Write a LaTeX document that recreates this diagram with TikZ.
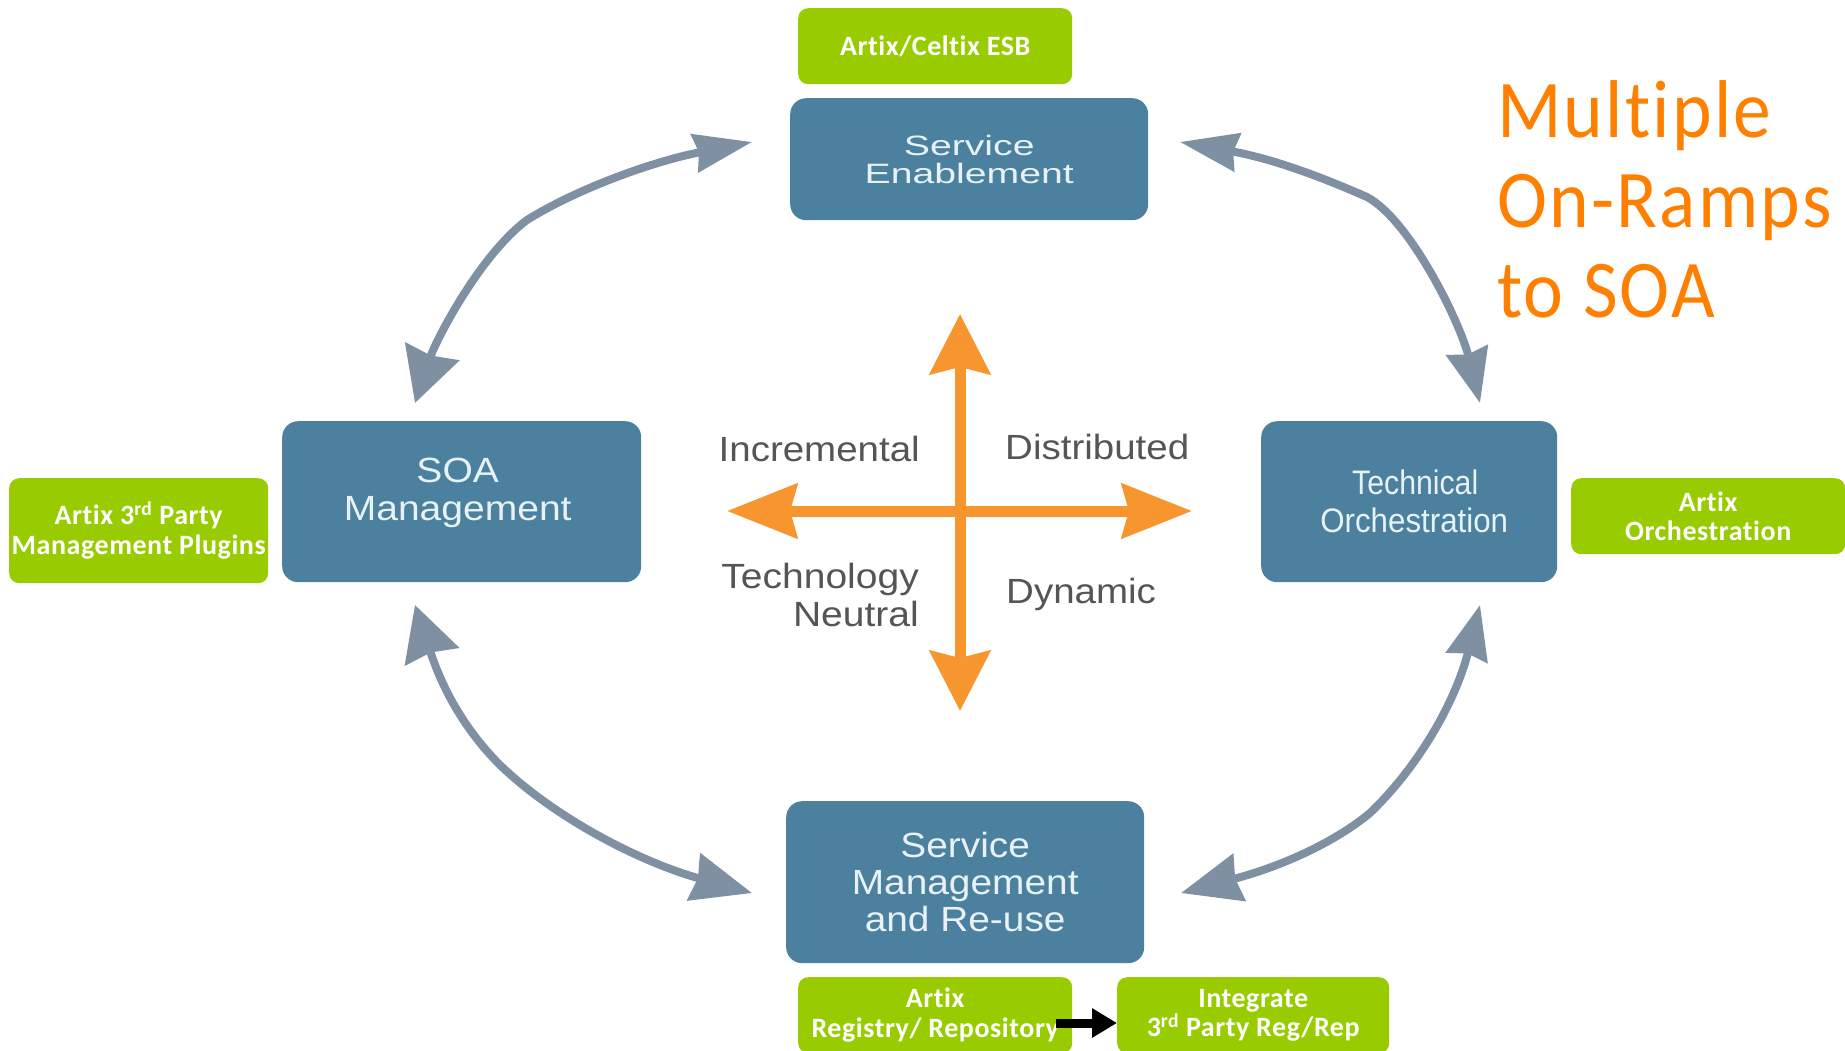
\documentclass[tikz,border=0pt]{standalone}
\usepackage{fontspec}
\usepackage{graphicx}
\setmainfont{Liberation Sans}
\newfontfamily\greenfont[LetterSpace=2.0,Ligatures=NoCommon]{Carlito}
\newfontfamily\titlefont[LetterSpace=3.0,Ligatures=NoCommon]{Carlito}
\usetikzlibrary{arrows.meta}
\definecolor{bluebox}{HTML}{4C809F}
\definecolor{greenbox}{HTML}{99CC00}
\definecolor{greyarrow}{HTML}{7F90A3}
\definecolor{orangearrow}{HTML}{F7962E}
\definecolor{titleorange}{HTML}{FF8000}
\definecolor{bluetext}{HTML}{E6F2F6}
\definecolor{labeltext}{HTML}{555555}
\newcommand{\sx}[2]{\scalebox{#1}[1]{#2}}
\newcommand{\ord}{\textsuperscript{rd}}
\tikzset{
  x=1pt,y=-1pt,
  ahtop/.tip={Stealth[length=58pt,width=38pt,inset=4pt]},
  ahbot/.tip={Stealth[length=60pt,width=48pt,inset=4pt]},
  avleft/.tip={Stealth[length=54pt,width=56pt,inset=4pt]},
  avright/.tip={Stealth[length=54pt,width=42pt,inset=4pt]},
  overt/.tip={Stealth[length=60pt,width=60pt,inset=7pt]},
  ohorz/.tip={Stealth[length=70pt,width=54pt,inset=7pt]},
  bluenode/.style={fill=bluebox,rounded corners=16pt,inner sep=0pt,anchor=north west,text=bluetext,align=center},
  greennode/.style={fill=greenbox,rounded corners=10pt,inner sep=0pt,anchor=north west,text=white,align=center,font=\greenfont\bfseries\fontsize{28}{29.5}\selectfont},
  labelnode/.style={text=labeltext,inner sep=0pt,font=\fontsize{35}{38}\selectfont},
  greyarr/.style={draw=greyarrow,line width=8pt},
  orangearr/.style={draw=orangearrow,line width=11pt},
}
\begin{document}
\begin{tikzpicture}
\useasboundingbox (0,0) rectangle (1845,1050);
% blue boxes
\node[bluenode,minimum width=358pt,minimum height=122pt,font=\fontsize{28}{28}\selectfont] (se) at (790,98) {\sx{1.4}{Service}\\\sx{1.4}{Enablement}};
\node[bluenode,minimum width=359pt,minimum height=161pt,font=\fontsize{35}{38}\selectfont] (soa) at (282,421) {\hbox{\sx{1.115}{SOA}\kern8pt}\\\hbox{\sx{1.115}{Management}\kern8pt}\\[-24pt]\strut};
\node[bluenode,minimum width=296pt,minimum height=161pt,font=\fontsize{34}{38}\selectfont] (to) at (1261,421) {\hspace*{12pt}\sx{0.89}{Technical}\\\hspace*{10pt}\sx{0.92}{Orchestration}};
\node[bluenode,minimum width=358pt,minimum height=162pt,font=\fontsize{35}{37}\selectfont] (sm) at (786,801) {\sx{1.11}{Service}\\\sx{1.11}{Management}\\\sx{1.11}{and Re-use}};
% green boxes
\node[greennode,minimum width=274pt,minimum height=76pt] (esb) at (798,8) {Artix/Celtix ESB};
\node[greennode,minimum width=259pt,minimum height=105pt] (plug) at (9,478) {Artix 3\ord{} Party\\Management Plugins};
\node[greennode,minimum width=274pt,minimum height=76pt] (orch) at (1571,478) {Artix\\Orchestration};
\node[greennode,minimum width=274pt,minimum height=76pt] (reg) at (798,977) {Artix\\Registry/ Repository};
\node[greennode,minimum width=272pt,minimum height=76pt] (rep) at (1117,977) {Integrate\\3\ord{} Party Reg/Rep};
% title
\node[anchor=north west,inner sep=0pt,align=left,text=titleorange,font=\titlefont\fontsize{82}{90}\selectfont] (title) at (1497,80) {\sx{0.92}{Multiple}\\\sx{0.92}{On-Ramps}\\\sx{0.92}{to SOA}};
% labels
\node[labelnode,anchor=east] (inc) at (920,449) {\sx{1.1}{Incremental}};
\node[labelnode,anchor=west] (dis) at (1005,447) {\sx{1.1}{Distributed}};
\node[labelnode,anchor=north east,align=right] (tech) at (919,563) {\sx{1.115}{Technology}\\\sx{1.115}{Neutral}};
\node[labelnode,anchor=west] (dyn) at (1006,594) {\sx{1.1}{Dynamic}};
% orange cross
\coordinate (cc) at (960,511);
\coordinate (ot) at (960,314);
\coordinate (ob) at (960,711);
\coordinate (ol) at (727,511);
\coordinate (or) at (1192,511);
\draw[orangearr,-{overt}] (cc) -- (ot);
\draw[orangearr,-{overt}] (cc) -- (ob);
\draw[orangearr,-{ohorz}] (cc) -- (ol);
\draw[orangearr,-{ohorz}] (cc) -- (or);
% grey arrows
\coordinate (tlA) at (752,142);
\coordinate (tlB) at (415,403);
\coordinate (trA) at (1180,142);
\coordinate (trB) at (1480,403);
\coordinate (blA) at (415,605);
\coordinate (blB) at (752,893);
\coordinate (brA) at (1181,893);
\coordinate (brB) at (1480,605);
\draw[greyarr,{ahtop}-{avleft}] (tlA) .. controls (650,162) and (575,190) .. (527,220) .. controls (480,255) and (436,340) .. (tlB);
\draw[greyarr,{ahtop}-{avright}] (trA) .. controls (1280,160) and (1335,183) .. (1367,197) .. controls (1410,220) and (1460,322) .. (trB);
\draw[greyarr,{avleft}-{ahbot}] (blA) .. controls (437,672) and (455,720) .. (500,765) .. controls (555,818) and (640,862) .. (blB);
\draw[greyarr,{ahbot}-{avright}] (brA) .. controls (1290,864) and (1340,838) .. (1370,813) .. controls (1420,765) and (1456,700) .. (brB);
% black arrow
\coordinate (blk) at ([xshift=-16pt]reg.east |- 0,1023);
\draw[line width=9pt,-{Triangle[length=25pt,width=28pt]}] (blk) -- (rep.west |- blk);
\end{tikzpicture}
\end{document}
